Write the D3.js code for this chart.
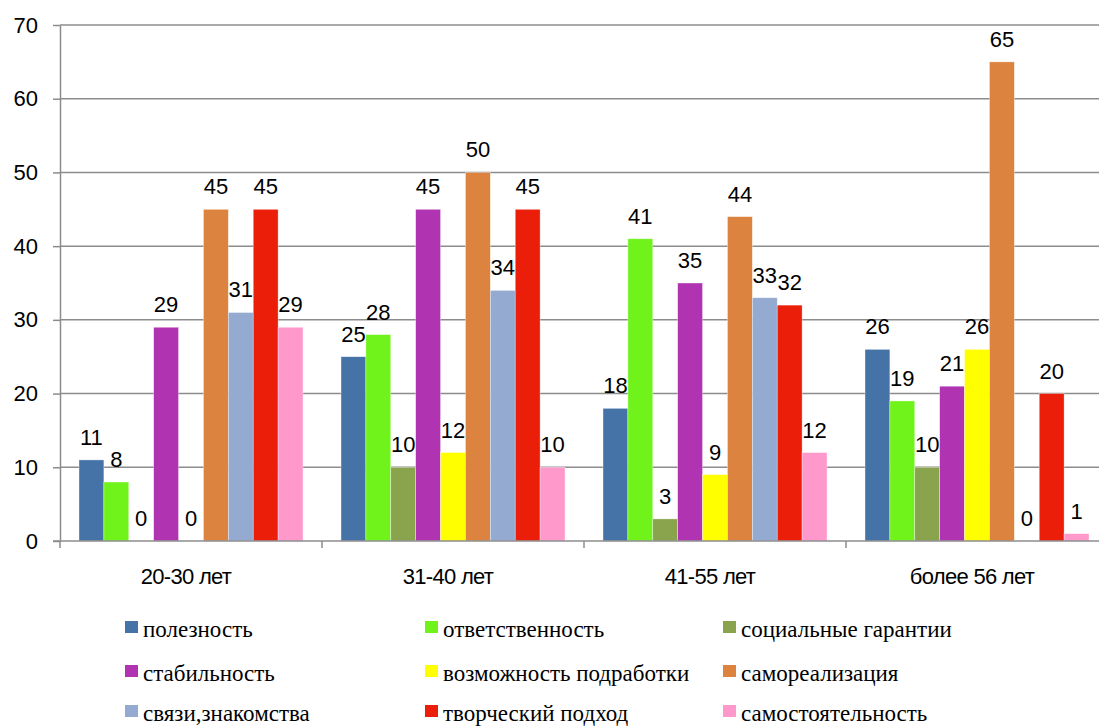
<!DOCTYPE html>
<html>
<head>
<meta charset="utf-8">
<script src="https://cdn.jsdelivr.net/npm/d3@7"></script>
<style>
  html, body { margin: 0; padding: 0; background: #fff; }
  svg { display: block; }
  .legend-label { font-family: "Liberation Serif", "Times New Roman", "Liberation Sans", serif; }
</style>
</head>
<body>
<svg id="chart" width="1099" height="727"></svg>
<script>
// Age groups along the x axis
const ageGroups = ["20-30 лет", "31-40 лет", "41-55 лет", "более 56 лет"];

// Motives (one series each), listed in legend order
const seriesNames = [
  "полезность",
  "ответственность",
  "социальные гарантии",
  "стабильность",
  "возможность подработки",
  "самореализация",
  "связи,знакомства",
  "творческий подход",
  "самостоятельность"
];

const seriesColors = [
  "#4673A7", "#70F21B", "#8AA44E", "#B034B1", "#FFFF00",
  "#DC843F", "#95AAD0", "#EB1E0A", "#FF99CC"
];

// Values per series, one per age group
const poleznost        = [11, 25, 18, 26];
const otvetstvennost   = [8, 28, 41, 19];
const socGarantii      = [0, 10, 3, 10];
const stabilnost       = [29, 45, 35, 21];
const podrabotka       = [0, 12, 9, 26];
const samorealizaciya  = [45, 50, 44, 65];
const svyazi           = [31, 34, 33, 0];
const tvorcheskiy      = [45, 45, 32, 20];
const samostoyatelnost = [29, 10, 12, 1];

const seriesValues = [
  poleznost, otvetstvennost, socGarantii, stabilnost, podrabotka,
  samorealizaciya, svyazi, tvorcheskiy, samostoyatelnost
];

const yTicks = [0, 10, 20, 30, 40, 50, 60, 70];

const svg = d3.select("#chart");
const W = 1099;

const plotLeft = 60, plotRight = 1108, plotTop = 25, plotBottom = 541;

const x0 = d3.scaleBand().domain(ageGroups).range([plotLeft, plotRight]).padding(0);
const x1 = d3.scaleBand().domain(d3.range(seriesNames.length))
  .range([19, x0.bandwidth() - 19]).padding(0);
const y = d3.scaleLinear().domain([0, 70]).range([plotBottom, plotTop]);

const gridColor = "#8C8C8C";

// Horizontal gridlines
svg.append("g")
  .selectAll("line")
  .data(yTicks.filter(d => d > 0))
  .join("line")
  .attr("x1", plotLeft).attr("x2", W)
  .attr("y1", d => y(d)).attr("y2", d => y(d))
  .attr("stroke", gridColor).attr("stroke-width", 1.5);

// Y axis
const yAxis = svg.append("g")
  .attr("transform", `translate(${plotLeft},0)`)
  .call(d3.axisLeft(y).tickValues(yTicks).tickSize(7).tickPadding(15).tickSizeOuter(0));
yAxis.select(".domain").attr("stroke", gridColor).attr("stroke-width", 1.5);
yAxis.selectAll(".tick line").attr("stroke", gridColor).attr("stroke-width", 1.5);
yAxis.selectAll(".tick text")
  .attr("font-family", "Liberation Sans, Arial, sans-serif")
  .attr("font-size", 22).attr("fill", "#000");

// Bars
const groups = svg.append("g")
  .selectAll("g")
  .data(ageGroups)
  .join("g")
  .attr("transform", d => `translate(${x0(d)},0)`);

groups.selectAll("rect")
  .data((g, gi) => seriesValues.map((vals, si) => ({ si, v: vals[gi] })))
  .join("rect")
  .attr("x", d => x1(d.si))
  .attr("y", d => y(d.v))
  .attr("width", x1.bandwidth())
  .attr("height", d => y(0) - y(d.v))
  .attr("fill", d => seriesColors[d.si])
  .attr("stroke", "#ffffff").attr("stroke-opacity", 0.6).attr("stroke-width", 0.6);

// Value labels above bars
groups.selectAll("text")
  .data((g, gi) => seriesValues.map((vals, si) => ({ si, v: vals[gi] })))
  .join("text")
  .attr("x", d => x1(d.si) + x1.bandwidth() / 2)
  .attr("y", d => y(d.v) - 15)
  .attr("text-anchor", "middle")
  .attr("font-family", "Liberation Sans, Arial, sans-serif")
  .attr("font-size", 22)
  .attr("fill", "#000")
  .text(d => d.v);

// X axis
const xAxis = svg.append("g")
  .attr("transform", `translate(0,${plotBottom})`);
xAxis.append("line")
  .attr("x1", plotLeft - 7).attr("x2", W)
  .attr("y1", 0).attr("y2", 0)
  .attr("stroke", gridColor).attr("stroke-width", 1.5);
xAxis.selectAll("line.tick")
  .data(ageGroups)
  .join("line")
  .attr("class", "tick")
  .attr("x1", d => x0(d)).attr("x2", d => x0(d))
  .attr("y1", 0).attr("y2", 7)
  .attr("stroke", gridColor).attr("stroke-width", 1.5);
xAxis.selectAll("text")
  .data(ageGroups)
  .join("text")
  .attr("x", d => x0(d) + x0.bandwidth() / 2 - 5)
  .attr("y", 43)
  .attr("text-anchor", "middle")
  .attr("font-family", "Liberation Sans, Arial, sans-serif")
  .attr("font-size", 22)
  .attr("letter-spacing", -0.7)
  .attr("fill", "#000")
  .text(d => d);

// Legend: three columns, three rows
const legendCols = [125, 425, 723];
const legendRows = [621, 665, 705];
const legend = svg.append("g")
  .selectAll("g")
  .data(seriesNames)
  .join("g")
  .attr("transform", (d, i) => `translate(${legendCols[i % 3]},${legendRows[Math.floor(i / 3)]})`);
legend.append("rect")
  .attr("width", 13).attr("height", 12)
  .attr("fill", (d, i) => seriesColors[i]);
legend.append("text")
  .attr("class", "legend-label")
  .attr("x", 18).attr("y", 16)
  .attr("font-size", 23)
  .attr("fill", "#000")
  .text(d => d);
</script>
</body>
</html>
